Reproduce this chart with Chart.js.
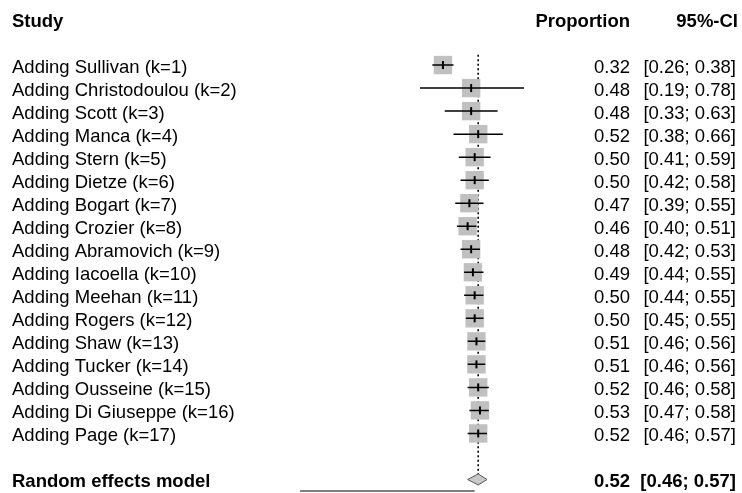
<!DOCTYPE html>
<html>
<head>
  <title>Cumulative meta-analysis forest plot</title>
  <meta charset="UTF-8" />
  <script src="https://cdn.jsdelivr.net/npm/chart.js"></script>
  <style>
    body {
      margin: 0;
      background: #fff;
    }
    canvas {
      display: block;
    }
  </style>
</head>
<body>
  <canvas id="forest" width="742" height="493"></canvas>

  <script>
// data
const studies = [
  'Adding Sullivan (k=1)', 'Adding Christodoulou (k=2)', 'Adding Scott (k=3)',
  'Adding Manca (k=4)', 'Adding Stern (k=5)', 'Adding Dietze (k=6)',
  'Adding Bogart (k=7)', 'Adding Crozier (k=8)', 'Adding Abramovich (k=9)',
  'Adding Iacoella (k=10)', 'Adding Meehan (k=11)', 'Adding Rogers (k=12)',
  'Adding Shaw (k=13)', 'Adding Tucker (k=14)', 'Adding Ousseine (k=15)',
  'Adding Di Giuseppe (k=16)', 'Adding Page (k=17)'
];
const proportion = [0.32, 0.48, 0.48, 0.52, 0.50, 0.50, 0.47, 0.46, 0.48, 0.49, 0.50, 0.50, 0.51, 0.51, 0.52, 0.53, 0.52];
const ciLower    = [0.26, 0.19, 0.33, 0.38, 0.41, 0.42, 0.39, 0.40, 0.42, 0.44, 0.44, 0.45, 0.46, 0.46, 0.46, 0.47, 0.46];
const ciUpper    = [0.38, 0.78, 0.63, 0.66, 0.59, 0.58, 0.55, 0.51, 0.53, 0.55, 0.55, 0.55, 0.56, 0.56, 0.58, 0.58, 0.57];

const pooledLabel = 'Random effects model';
const pooledEst = 0.52;
const pooledLower = 0.46;
const pooledUpper = 0.57;

// extent of the x axis line under the plot
const axisFrom = -0.49;
const axisTo = 0.50;

// row layout: header on row 0, studies from row 2, pooled two rows after the last study
const firstRow = 2;
const pooledRow = firstRow + studies.length + 1;
const rowOf = i => firstRow + i;

const squarePts = proportion.map((p, i) => ({ x: p, y: rowOf(i) }));

const ciPts = [];
proportion.forEach((p, i) => {
  ciPts.push({ x: ciLower[i], y: rowOf(i) });
  ciPts.push({ x: ciUpper[i], y: rowOf(i) });
  ciPts.push({ x: ciUpper[i], y: null });
});

const diamondHalf = 0.24;
const diamondPts = [
  { x: pooledLower, y: pooledRow },
  { x: pooledEst, y: pooledRow - diamondHalf },
  { x: pooledUpper, y: pooledRow },
  { x: pooledEst, y: pooledRow + diamondHalf },
  { x: pooledLower, y: pooledRow }
];

const fmt = v => v.toFixed(2);

const FONT = '18.5px "Liberation Sans", Arial, sans-serif';
const BOLD = 'bold 18.5px "Liberation Sans", Arial, sans-serif';

const textColumns = {
  id: 'textColumns',
  afterDraw(chart) {
    const ctx = chart.ctx;
    const y = chart.scales.y;
    const base = r => y.getPixelForValue(r) + 8;
    ctx.save();
    ctx.fillStyle = '#000';

    ctx.font = BOLD;
    ctx.textAlign = 'left';
    ctx.fillText('Study', 12, base(0));
    ctx.textAlign = 'right';
    ctx.fillText('Proportion', 630, base(0));
    ctx.fillText('95%-CI', 738, base(0));

    ctx.font = FONT;
    studies.forEach((s, i) => {
      ctx.textAlign = 'left';
      ctx.fillText(s, 12, base(rowOf(i)));
      ctx.textAlign = 'right';
      ctx.fillText(fmt(proportion[i]), 630, base(rowOf(i)));
      ctx.fillText('[' + fmt(ciLower[i]) + '; ' + fmt(ciUpper[i]) + ']', 736, base(rowOf(i)));
    });

    ctx.font = BOLD;
    ctx.textAlign = 'left';
    ctx.fillText(pooledLabel, 12, base(pooledRow));
    ctx.textAlign = 'right';
    ctx.fillText(fmt(pooledEst), 630, base(pooledRow));
    ctx.fillText('[' + fmt(pooledLower) + '; ' + fmt(pooledUpper) + ']', 736, base(pooledRow));
    ctx.restore();
  }
};

new Chart(document.getElementById('forest'), {
  type: 'line',
  data: {
    datasets: [
      {
        // confidence intervals
        data: ciPts,
        borderColor: '#000',
        borderWidth: 1.5,
        pointRadius: 0,
        spanGaps: false,
        clip: false,
        order: 0
      },
      {
        // point estimate ticks
        data: squarePts,
        showLine: false,
        pointStyle: 'line',
        pointRotation: 90,
        pointRadius: 4,
        pointBorderWidth: 2,
        pointBorderColor: '#000',
        clip: false,
        order: 1
      },
      {
        // study squares
        data: squarePts,
        showLine: false,
        pointStyle: 'rect',
        pointRadius: 13,
        pointBackgroundColor: '#c0c0c0',
        pointBorderWidth: 0,
        clip: false,
        order: 2
      },
      {
        // dotted line at the pooled estimate
        data: [{ x: pooledEst, y: firstRow - 0.45 }, { x: pooledEst, y: pooledRow - diamondHalf }],
        borderColor: '#000',
        borderWidth: 1.6,
        borderDash: [2, 2.5],
        pointRadius: 0,
        clip: false,
        order: 3
      },
      {
        // pooled diamond
        data: diamondPts,
        borderColor: '#555',
        borderWidth: 1,
        backgroundColor: '#c8c8c8',
        fill: 'shape',
        tension: 0,
        pointRadius: 0,
        clip: false,
        order: -1
      },
      {
        // x axis line
        data: [{ x: axisFrom, y: pooledRow + 0.5 }, { x: axisTo, y: pooledRow + 0.5 }],
        borderColor: '#000',
        borderWidth: 1,
        pointRadius: 0,
        clip: false,
        order: 4
      }
    ]
  },
  options: {
    responsive: false,
    animation: false,
    layout: { autoPadding: false, padding: { top: 7.5, bottom: 2, left: 0, right: 0 } },
    scales: {
      x: { type: 'linear', min: -2.1924, max: 2.0163, display: false },
      y: { type: 'linear', min: -0.5, max: pooledRow + 0.5, reverse: true, display: false }
    },
    plugins: {
      legend: { display: false },
      tooltip: { enabled: false }
    }
  },
  plugins: [textColumns]
});
  </script>
</body>
</html>
